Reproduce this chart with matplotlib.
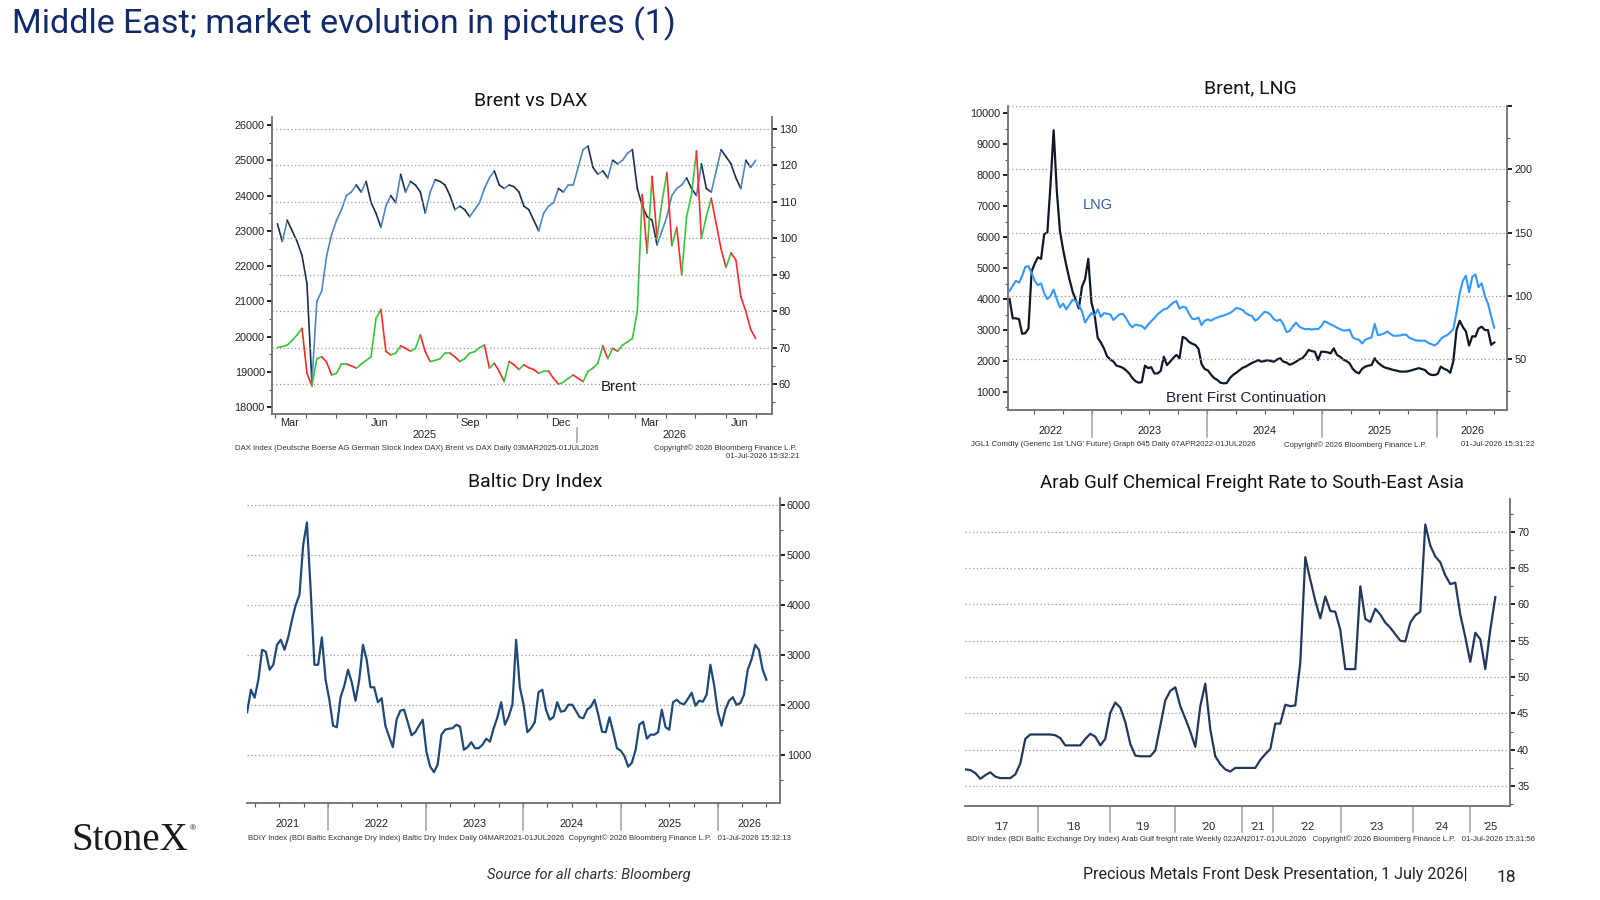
import numpy as np
import pandas as pd
import matplotlib
matplotlib.use('Agg')
import matplotlib.pyplot as plt
import matplotlib.dates as mdates
from matplotlib.collections import LineCollection
from matplotlib.ticker import MultipleLocator, FixedLocator, NullLocator, FormatStrFormatter

W, H = 1600, 900

# ---------------- data ----------------
# Brent vs DAX, sampled every 5 days from 03MAR2025
tl_dates = pd.date_range('2025-03-03', periods=98, freq='5D')
dax = [23200, 22700, 23300, 23000, 22700, 22300, 21500, 18700, 21000, 21300,
       22300, 22900, 23300, 23600, 24000, 24100, 24300, 24100, 24400, 23800,
       23500, 23100, 23700, 24000, 23800, 24600, 24100, 24400, 24300, 24100,
       23500, 24100, 24450, 24400, 24300, 24000, 23600, 23700, 23600, 23400,
       23600, 23800, 24200, 24500, 24700, 24300, 24200, 24300, 24250, 24100,
       23700, 23600, 23300, 23000, 23500, 23700, 23800, 24200, 24100, 24300,
       24300, 24800, 25300, 25400, 24800, 24600, 24700, 24500, 25000, 24900,
       25000, 25200, 25300, 24200, 23700, 23400, 23300, 22600, 23000, 23400,
       24000, 24200, 24300, 24500, 24200, 24000, 24900, 24200, 24100, 24700,
       25300, 25100, 24900, 24500, 24200, 25000, 24800, 25000]
brent_tl = [70, 70.3, 70.7, 72, 73.5, 75.3, 63, 59.5, 67, 67.5,
            66, 62.5, 63, 65.5, 65.5, 65, 64.4, 65.5, 66.5, 67.5,
            78, 80.5, 69, 68, 68.5, 70.5, 69.8, 69, 69.8, 73.5,
            68.9, 66.2, 66.5, 67, 68.5, 68.5, 67.5, 66.2, 67, 68.5,
            68.9, 70, 70.7, 64.4, 65.7, 63.5, 60.7, 66.2, 65.3, 64,
            65.3, 64.5, 64, 63, 63.5, 63.5, 61.6, 60, 60.5, 61.6,
            62.5, 61.6, 60.7, 63.5, 64.4, 65.7, 70.5, 67, 69.8, 69,
            70.7, 71.6, 72.5, 80, 112, 96, 117, 100, 110, 118,
            98, 103, 90, 106, 112, 124, 100, 106, 111, 104,
            97, 92, 96, 94, 84, 80, 75, 72.5]

# Brent, LNG, sampled every 10 days up to 01JUL2026
tr_dates = pd.date_range(end='2026-07-01', periods=155, freq='10D')
lng = [4000, 3380, 3380, 3350, 2880, 2900, 3050, 4900, 5150, 5350,
       5300, 6100, 6150, 7700, 9450, 7500, 6200, 5600, 5100, 4650,
       4250, 3980, 3700, 4400, 4650, 5300, 3900, 3500, 2750, 2600,
       2400, 2150, 2050, 1980, 1850, 1820, 1780, 1700, 1600, 1450,
       1350, 1300, 1320, 1850, 1770, 1800, 1600, 1600, 1680, 2140,
       1870, 1980, 2100, 2200, 2090, 2780, 2730, 2620, 2560, 2520,
       2400, 1900, 1740, 1700, 1560, 1450, 1390, 1300, 1280, 1290,
       1450, 1550, 1620, 1700, 1780, 1820, 1880, 1940, 1980, 2030,
       1980, 2000, 2030, 2000, 1980, 2050, 2090, 1980, 1950, 1880,
       1920, 1980, 2050, 2090, 2200, 2360, 2320, 2300, 2030, 2300,
       2300, 2280, 2250, 2410, 2200, 2140, 2050, 2000, 1930, 1750,
       1650, 1600, 1750, 1820, 1850, 1870, 2090, 1950, 1870, 1800,
       1770, 1740, 1710, 1690, 1660, 1660, 1660, 1680, 1710, 1740,
       1770, 1740, 1710, 1600, 1550, 1550, 1580, 1820, 1750, 1710,
       1620, 2000, 3000, 3300, 3100, 2950, 2500, 2800, 2790, 3050,
       3110, 3000, 3000, 2520, 2600]
brent_tr = [104, 108, 112, 110.5, 116, 123, 123.6, 118, 112, 108.5,
            110, 102, 97.5, 100, 105, 97.4, 91, 94, 89.5, 93,
            97, 96, 92.5, 88, 79, 83, 86.5, 84.5, 89.5, 83.5,
            86.5, 86, 85.5, 81, 83.5, 85.5, 86, 82.5, 78, 75.2,
            77.5, 76.8, 76.4, 74, 77.5, 80, 82.5, 85.5, 87.5, 89.5,
            90, 92.5, 94.8, 96, 90, 91.5, 91, 86, 82, 81.7,
            83, 77, 80.5, 81.5, 80.5, 82, 83, 84, 84.5, 85.6,
            86.5, 88.2, 90.5, 90, 89, 86.5, 85, 84.3, 80.5, 82,
            85, 87.5, 87, 85, 81.5, 80.4, 81.5, 77.5, 71.5, 72.5,
            76, 79, 76, 74.5, 73.8, 74, 73.5, 74, 73.8, 76,
            80, 79, 77.5, 76.5, 75, 73.8, 72.8, 72.8, 73.5, 67.5,
            66, 65.5, 62.5, 65.5, 66.5, 67.3, 78, 69, 69.5, 70.5,
            72, 70, 68.6, 68.6, 68.8, 69.5, 69.5, 67, 66, 65,
            64.7, 64.7, 64.7, 63, 62, 61, 62.5, 66, 68, 69,
            71.2, 74, 87, 102, 112, 116, 103, 115, 117, 107,
            110, 100, 94, 84, 75]

# Baltic Dry Index, sampled every 14 days up to 01JUL2026
bdi_dates = pd.date_range(end='2026-07-01', periods=140, freq='14D')
bdi = [1850, 2300, 2140, 2500, 3100, 3060, 2700, 2800, 3200, 3300,
       3100, 3350, 3700, 4000, 4200, 5200, 5650, 4300, 2800, 2800,
       3350, 2500, 2100, 1580, 1550, 2150, 2380, 2700, 2450, 2080,
       2500, 3200, 2900, 2350, 2350, 2050, 2130, 1580, 1360, 1150,
       1700, 1880, 1900, 1650, 1390, 1450, 1580, 1700, 1050, 760,
       650, 800, 1400, 1500, 1520, 1530, 1600, 1560, 1100, 1150,
       1250, 1130, 1130, 1200, 1320, 1260, 1530, 1750, 2050, 1600,
       1760, 2000, 3300, 2350, 2000, 1450, 1530, 1650, 2250, 2300,
       1900, 1700, 1750, 2050, 1860, 1880, 2000, 2000, 1880, 1750,
       1730, 1900, 1960, 2100, 1800, 1460, 1450, 1750, 1450, 1130,
       1080, 970, 760, 840, 1100, 1600, 1660, 1320, 1400, 1400,
       1450, 1900, 1550, 1500, 2050, 2100, 2030, 2010, 2120, 2240,
       1980, 2080, 2060, 2200, 2800, 2400, 1850, 1580, 1900, 2080,
       2150, 2000, 2030, 2200, 2700, 2900, 3200, 3100, 2700, 2500]

# Arab Gulf freight rate on Bloomberg's compressed weekly axis
freight = [37.3, 37.2, 36.8, 36.0, 36.5, 36.9, 36.3, 36.1, 36.1, 36.1,
           36.6, 38.1, 41.5, 42.1, 42.1, 42.1, 42.1, 42.1, 42.0, 41.6,
           40.6, 40.6, 40.6, 40.6, 41.5, 42.2, 41.8, 40.6, 41.5, 45.1,
           46.5, 45.8, 43.8, 40.8, 39.2, 39.1, 39.1, 39.1, 39.9, 43.3,
           46.8, 48.1, 48.6, 46.0, 44.3, 42.5, 40.4, 46.0, 49.1, 42.8,
           39.1, 38.0, 37.3, 37.0, 37.5, 37.5, 37.5, 37.5, 37.5, 38.6,
           39.4, 40.1, 43.6, 43.6, 46.2, 46.0, 46.1, 52.0, 66.5, 63.4,
           60.5, 58.1, 61.1, 59.1, 59.0, 56.5, 51.1, 51.1, 51.1, 62.5,
           58.0, 57.6, 59.4, 58.6, 57.5, 56.8, 55.9, 55.0, 54.9, 57.5,
           58.5, 59.0, 71.0, 68.1, 66.6, 65.8, 64.0, 62.8, 63.0, 58.6,
           55.5, 52.1, 56.1, 55.2, 51.1, 56.5, 61.0]
freight_step = 5
freight_years = ["'17", "'18", "'19", "'20", "'21", "'22", "'23", "'24", "'25"]
freight_year_edges = [0, 72.3, 144.2, 210.1, 277, 307.7, 375.8, 447.3, 504.7, 544.9]

# ---------------- style ----------------
plt.rcParams['font.family'] = ['Liberation Sans', 'DejaVu Sans']
DECK = ['Liberation Sans Narrow', 'Roboto', 'DejaVu Sans']
TITLE_FONT = ['Roboto', 'DejaVu Sans']
NAVY = '#102a6b'
SPINE = '#6e6e6e'
GRID = '#9a9a9a'
TICKLAB = 7.8

fig = plt.figure(figsize=(16, 9), dpi=100, facecolor='white')


def place(l, t, r, b):
    return [l / W, 1 - b / H, (r - l) / W, (b - t) / H]


def ftext(x, y, s, **kw):
    fig.text(x / W, 1 - y / H, s, **kw)


def under(ax, x, dy, s, **kw):
    ax.annotate(s, xy=(x, 0), xycoords=ax.get_xaxis_transform(), xytext=(0, -dy * 0.72),
                textcoords='offset points', ha='center', va='center',
                annotation_clip=False, fontsize=TICKLAB, color='#222', **kw)


def sep(ax, x, dy0, dy1):
    h = ax.get_position().height * H
    ax.plot([x, x], [-dy0 / h, -dy1 / h], transform=ax.get_xaxis_transform(),
            clip_on=False, color='#a0a0a0', lw=1.1)


def yaxis_style(ax, side):
    ax.tick_params(axis='y', which='major', direction='out', length=3.5, width=1.4,
                   color='#222', labelsize=TICKLAB, labelcolor='#222', pad=1.5)
    ax.tick_params(axis='y', which='minor', direction='out', length=2.5, width=0.8, color='#555')
    ax.yaxis.set_major_formatter(FormatStrFormatter('%d'))
    for s in ax.spines.values():
        s.set_visible(False)
    ax.spines[side].set_visible(True)
    ax.spines[side].set_color(SPINE)
    ax.spines[side].set_linewidth(1.3)


def xaxis_style(ax):
    ax.spines['bottom'].set_visible(True)
    ax.spines['bottom'].set_color(SPINE)
    ax.spines['bottom'].set_linewidth(1.3)
    ax.xaxis.set_major_locator(NullLocator())
    ax.tick_params(axis='x', which='minor', direction='out', length=3, width=0.8, color='#555')


def up_down_line(ax, dates, vals, up, down, lw=1.2):
    # Bloomberg bar chart look: each move coloured by direction
    x = mdates.date2num(dates)
    segs, cols = [], []
    for k in range(1, len(vals)):
        segs.append([(x[k - 1], vals[k - 1]), (x[k], vals[k])])
        cols.append(up if vals[k] >= vals[k - 1] else down)
    ax.add_collection(LineCollection(segs, colors=cols, linewidths=lw, capstyle='round'))


def year_labels(ax, x0, x1, years, dy):
    for y in years:
        a = max(x0, mdates.date2num(pd.Timestamp(f'{y}-01-01')))
        b = min(x1, mdates.date2num(pd.Timestamp(f'{y + 1}-01-01')))
        under(ax, (a + b) / 2, dy, str(y))


def grid(ax):
    ax.grid(axis='y', which='major', ls=(0, (1, 2)), color=GRID, lw=0.9)
    ax.set_axisbelow(True)


# ---------------- Brent vs DAX ----------------
ax = fig.add_axes(place(271.8, 117, 772, 414))
axr = ax.twinx()
x0 = mdates.date2num(pd.Timestamp('2025-02-25 08:00'))
x1 = mdates.date2num(pd.Timestamp('2026-07-17 14:00'))
ax.set_xlim(x0, x1)
ax.set_ylim(17810, 26227)
axr.set_ylim(51.8, 133.3)
ax.yaxis.set_major_locator(MultipleLocator(1000))
ax.yaxis.set_minor_locator(MultipleLocator(500))
axr.yaxis.set_major_locator(MultipleLocator(10))
axr.yaxis.set_minor_locator(MultipleLocator(5))
yaxis_style(ax, 'left')
yaxis_style(axr, 'right')
xaxis_style(ax)
ax.xaxis.set_minor_locator(mdates.MonthLocator())
grid(axr)
up_down_line(ax, tl_dates, dax, '#4f86c6', '#1e2f4d')
up_down_line(axr, tl_dates, brent_tl, '#3cc43c', '#ff2a2a')
for m in pd.date_range('2025-03-01', '2026-06-30', freq='MS'):
    if m.month in (3, 6, 9, 12):
        under(ax, mdates.date2num(m + pd.Timedelta(days=14)), 8.7, m.strftime('%b'))
year_labels(ax, x0, x1, [2025, 2026], 21.3)
sep(ax, mdates.date2num(pd.Timestamp('2026-01-01')), 14, 28)
ftext(601, 386.7, 'Brent', fontsize=10.8, color='#222', va='center')
ftext(530.8, 101.5, 'Brent vs DAX', fontsize=14, family=TITLE_FONT, ha='center', va='center', color='#111')
ftext(234.7, 448, 'DAX Index (Deutsche Boerse AG German Stock Index DAX) Brent vs DAX Daily 03MAR2025-01JUL2026',
      fontsize=5.6, color='#333', va='center')
ftext(797, 448, 'Copyright\u00a9 2026 Bloomberg Finance L.P.', fontsize=5.6, color='#333', va='center', ha='right')
ftext(799, 457, '01-Jul-2026 15:32:21', fontsize=5.6, color='#333', va='center', ha='right')

# ---------------- Brent, LNG ----------------
ax = fig.add_axes(place(1007.7, 105.7, 1507.2, 410))
axr = ax.twinx()
x0 = mdates.date2num(pd.Timestamp('2022-04-07'))
x1 = mdates.date2num(pd.Timestamp('2026-08-11'))
ax.set_xlim(x0, x1)
ax.set_ylim(419, 10245)
axr.set_ylim(10, 250.2)
ax.yaxis.set_major_locator(MultipleLocator(1000))
ax.yaxis.set_minor_locator(MultipleLocator(500))
axr.yaxis.set_major_locator(FixedLocator([50, 100, 150, 200, 250]))
axr.yaxis.set_minor_locator(FixedLocator([25, 75, 125, 175, 225]))
yaxis_style(ax, 'left')
yaxis_style(axr, 'right')
axr.yaxis.set_major_formatter(plt.FuncFormatter(lambda v, p: '' if v > 240 else '%d' % v))
xaxis_style(ax)
ax.xaxis.set_minor_locator(mdates.MonthLocator(bymonth=[1, 4, 7, 10]))
grid(axr)
ax.plot(tr_dates, lng, color='#0f1828', lw=1.6)
axr.plot(tr_dates, brent_tr, color='#3399ff', lw=1.5)
for y in range(2023, 2027):
    sep(ax, mdates.date2num(pd.Timestamp(f'{y}-01-01')), 0, 27)
year_labels(ax, x0, x1, range(2022, 2027), 21)
ftext(1082.7, 205, 'LNG', fontsize=10.5, color='#2f5f9e', va='center')
ftext(1165.8, 398.3, 'Brent First Continuation', fontsize=11, color='#1c2536', va='center')
ftext(1250.7, 88.5, 'Brent, LNG', fontsize=14, family=TITLE_FONT, ha='center', va='center', color='#111')
ftext(970.6, 444.7, "JGL1 Comdty (Generic 1st 'LNG' Future) Graph 645 Daily 07APR2022-01JUL2026",
      fontsize=5.6, color='#333', va='center')
ftext(1284.4, 444.7, 'Copyright\u00a9 2026 Bloomberg Finance L.P.', fontsize=5.6, color='#333', va='center')
ftext(1534, 444.7, '01-Jul-2026 15:31:22', fontsize=5.6, color='#333', va='center', ha='right')

# ---------------- Baltic Dry Index ----------------
ax = fig.add_axes(place(246.9, 498, 780, 802.7))
x0 = mdates.date2num(pd.Timestamp('2021-03-02'))
x1 = mdates.date2num(pd.Timestamp('2026-08-21'))
ax.set_xlim(x0, x1)
ax.set_ylim(38, 6140)
ax.yaxis.tick_right()
ax.yaxis.set_major_locator(MultipleLocator(1000))
ax.yaxis.set_minor_locator(MultipleLocator(500))
yaxis_style(ax, 'right')
xaxis_style(ax)
ax.xaxis.set_minor_locator(mdates.MonthLocator(bymonth=[1, 4, 7, 10]))
grid(ax)
ax.plot(bdi_dates, bdi, color='#1f4a78', lw=1.6)
for y in range(2022, 2027):
    sep(ax, mdates.date2num(pd.Timestamp(f'{y}-01-01')), 0, 27)
year_labels(ax, x0, x1, range(2021, 2027), 21.3)
ftext(534.7, 481.7, 'Baltic Dry Index', fontsize=14, family=TITLE_FONT, ha='center', va='center', color='#111')
ftext(248, 837.7, 'BDIY Index (BDI Baltic Exchange Dry Index) Baltic Dry Index Daily 04MAR2021-01JUL2026  '
      'Copyright\u00a9 2026 Bloomberg Finance L.P.   01-Jul-2026 15:32:13', fontsize=5.6, color='#333', va='center')

# ---------------- Arab Gulf freight ----------------
ax = fig.add_axes(place(965.3, 499.3, 1510.2, 805.7))
ax.set_xlim(freight_year_edges[0], freight_year_edges[-1])
ax.set_ylim(32.3, 74.47)
ax.yaxis.tick_right()
ax.yaxis.set_major_locator(MultipleLocator(5))
ax.yaxis.set_minor_locator(MultipleLocator(2.5))
yaxis_style(ax, 'right')
xaxis_style(ax)
grid(ax)
fx = np.arange(len(freight)) * freight_step
ax.plot(fx, freight, color='#23395b', lw=1.6)
for e in freight_year_edges[1:-1]:
    sep(ax, e, 0, 26)
for k, lab in enumerate(freight_years):
    under(ax, (freight_year_edges[k] + freight_year_edges[k + 1]) / 2, 21, lab)
ftext(1251.9, 482.7, 'Arab Gulf Chemical Freight Rate to South-East Asia', fontsize=13.5,
      family=TITLE_FONT, ha='center', va='center', color='#111')
ftext(966.8, 839, 'BDIY Index (BDI Baltic Exchange Dry Index) Arab Gulf freight rate Weekly 02JAN2017-01JUL2026   '
      'Copyright\u00a9 2026 Bloomberg Finance L.P.   01-Jul-2026 15:31:56', fontsize=5.6, color='#333', va='center')

# ---------------- slide furniture ----------------
ftext(12, 33.7, 'Middle East; market evolution in pictures (1)', fontsize=24.5, family=DECK,
      color=NAVY, va='baseline')
ftext(71, 850, 'StoneX', fontsize=28, family=['Liberation Serif', 'DejaVu Serif'], color='#1a1a1a', va='baseline')
ftext(190, 829, '\u00ae', fontsize=6, color='#1a1a1a', va='center')
ftext(588.5, 874.5, 'Source for all charts: Bloomberg', fontsize=10.5, family=DECK, style='italic',
      color='#333', ha='center', va='center')
ftext(1467.5, 874.5, 'Precious Metals Front Desk Presentation, 1 July 2026|', fontsize=11.5, family=DECK,
      color='#222', ha='right', va='center')
ftext(1506.5, 878, '18', fontsize=12.5, family=DECK, color='#222', ha='center', va='center')

fig.savefig('out.png', dpi=100, facecolor='white')
